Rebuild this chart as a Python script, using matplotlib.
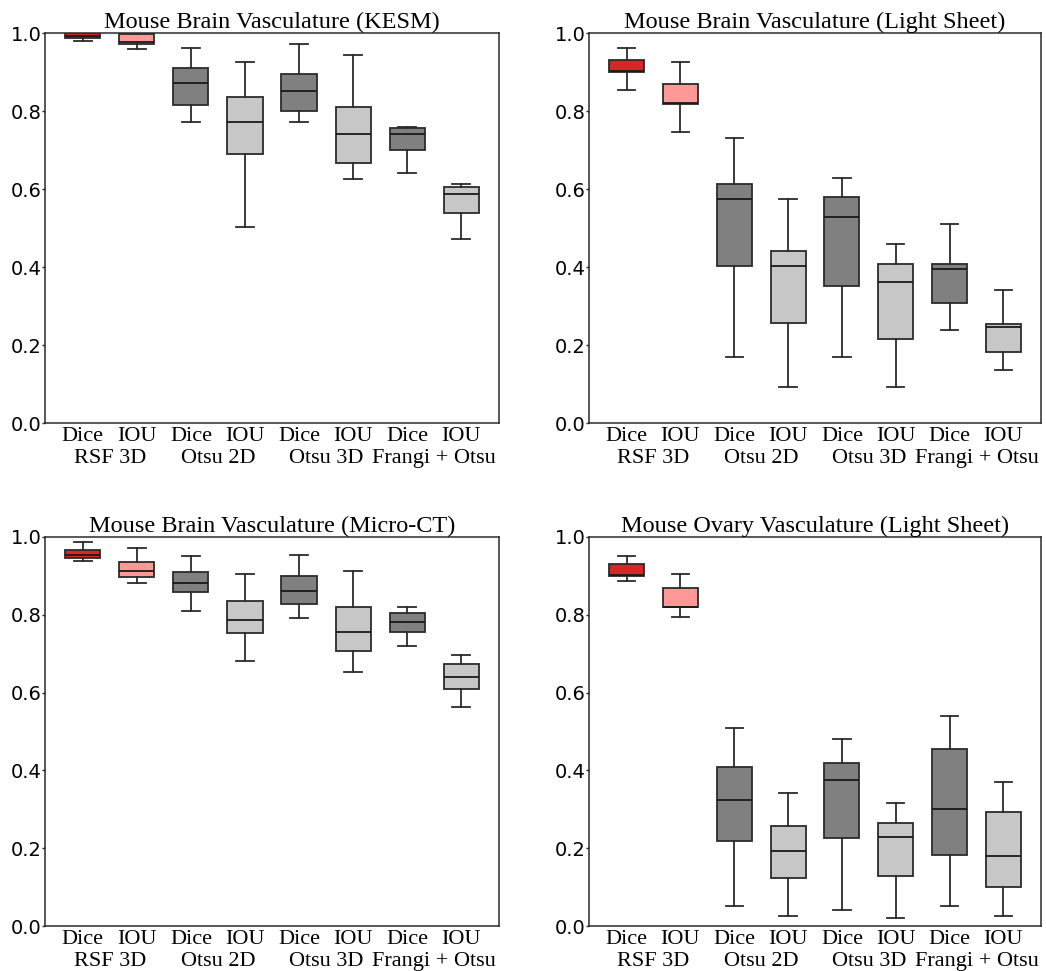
import matplotlib
matplotlib.use("Agg")
import matplotlib.pyplot as plt

# ---- data ----
titles = ["Mouse Brain Vasculature (KESM)", "Mouse Brain Vasculature (Light Sheet)",
          "Mouse Brain Vasculature (Micro-CT)", "Mouse Ovary Vasculature (Light Sheet)"]
metric_labels = ["Dice", "IOU", "Dice", "IOU", "Dice", "IOU", "Dice", "IOU"]
method_labels = ["RSF 3D", "Otsu 2D", "Otsu 3D", "Frangi + Otsu"]

# order per panel: Dice RSF, IOU RSF, Dice Otsu2D, IOU Otsu2D, Dice Otsu3D, IOU Otsu3D, Dice Frangi, IOU Frangi
kesm_lo  = [0.979, 0.958, 0.771, 0.503, 0.771, 0.626, 0.640, 0.471]
kesm_q1  = [0.987, 0.973, 0.815, 0.690, 0.800, 0.667, 0.699, 0.539]
kesm_med = [0.993, 0.976, 0.871, 0.771, 0.851, 0.740, 0.741, 0.587]
kesm_q3  = [0.999, 0.998, 0.910, 0.836, 0.896, 0.810, 0.756, 0.606]
kesm_hi  = [1.000, 1.000, 0.961, 0.925, 0.972, 0.943, 0.760, 0.613]

ls_lo  = [0.855, 0.747, 0.170, 0.092, 0.170, 0.092, 0.239, 0.135]
ls_q1  = [0.901, 0.817, 0.402, 0.256, 0.352, 0.216, 0.307, 0.182]
ls_med = [0.903, 0.820, 0.574, 0.403, 0.529, 0.361, 0.395, 0.246]
ls_q3  = [0.930, 0.869, 0.612, 0.442, 0.580, 0.408, 0.407, 0.255]
ls_hi  = [0.962, 0.926, 0.730, 0.574, 0.629, 0.459, 0.509, 0.342]

ct_lo  = [0.938, 0.882, 0.811, 0.681, 0.791, 0.653, 0.721, 0.562]
ct_q1  = [0.946, 0.896, 0.859, 0.753, 0.828, 0.706, 0.757, 0.608]
ct_med = [0.955, 0.913, 0.883, 0.787, 0.862, 0.756, 0.781, 0.640]
ct_q3  = [0.967, 0.936, 0.911, 0.836, 0.901, 0.820, 0.805, 0.674]
ct_hi  = [0.987, 0.973, 0.951, 0.905, 0.954, 0.912, 0.820, 0.696]

ov_lo  = [0.887, 0.794, 0.051, 0.026, 0.041, 0.021, 0.051, 0.026]
ov_q1  = [0.901, 0.819, 0.218, 0.123, 0.225, 0.129, 0.182, 0.099]
ov_med = [0.902, 0.821, 0.325, 0.194, 0.375, 0.230, 0.300, 0.181]
ov_q3  = [0.930, 0.869, 0.410, 0.258, 0.420, 0.266, 0.455, 0.294]
ov_hi  = [0.951, 0.906, 0.509, 0.342, 0.481, 0.315, 0.540, 0.370]

panels = [
    (kesm_lo, kesm_q1, kesm_med, kesm_q3, kesm_hi),
    (ls_lo, ls_q1, ls_med, ls_q3, ls_hi),
    (ct_lo, ct_q1, ct_med, ct_q3, ct_hi),
    (ov_lo, ov_q1, ov_med, ov_q3, ov_hi),
]

box_colors = ["#d62728", "#ff9896", "#808080", "#c7c7c7",
              "#808080", "#c7c7c7", "#808080", "#c7c7c7"]

# ---- layout ----
W, H = 1046, 971
fig = plt.figure(figsize=(W / 100, H / 100), dpi=100)

axes_px = [(45, 33, 499, 423), (589, 33, 1041, 423),
           (45, 537, 499, 926), (589, 537, 1041, 926)]

serif = ["Liberation Serif", "DejaVu Serif"]
edge = "#2b2b2b"

for (x0, y0, x1, y1), title, data in zip(axes_px, titles, panels):
    ax = fig.add_axes([x0 / W, (H - y1) / H, (x1 - x0) / W, (y1 - y0) / H])
    lo, q1, med, q3, hi = data
    stats = []
    for i in range(len(lo)):
        stats.append(dict(whislo=lo[i], q1=q1[i], med=med[i], q3=q3[i],
                          whishi=hi[i], fliers=[]))
    positions = list(range(1, len(lo) + 1))
    bp = ax.bxp(stats, positions=positions, widths=0.65, patch_artist=True,
                showfliers=False,
                boxprops=dict(edgecolor=edge, linewidth=1.3),
                whiskerprops=dict(color=edge, linewidth=1.3),
                capprops=dict(color=edge, linewidth=1.3),
                medianprops=dict(color="#1a1a1a", linewidth=1.3))
    for patch, c in zip(bp["boxes"], box_colors):
        patch.set_facecolor(c)

    ax.set_xlim(0.3, 8.7)
    ax.set_ylim(0.0, 1.0)
    ax.set_yticks([0.0, 0.2, 0.4, 0.6, 0.8, 1.0])
    ax.set_yticklabels(["0.0", "0.2", "0.4", "0.6", "0.8", "1.0"], fontsize=14)
    ax.set_xticks(positions)
    ax.set_xticklabels(metric_labels, fontsize=16, family=serif)
    ax.tick_params(axis="x", length=0, pad=3)
    ax.tick_params(axis="y", length=2, width=1, color=edge, pad=0.5)
    for sp in ax.spines.values():
        sp.set_color(edge)
        sp.set_linewidth(1.1)
    for k, lab in enumerate(method_labels):
        ax.text(1.5 + 2 * k, -0.09, lab, transform=ax.get_xaxis_transform(),
                ha="center", va="center", fontsize=16, family=serif)
    ax.set_title(title, fontsize=17.5, family=serif, pad=2)

fig.savefig("out.png", dpi=100)
